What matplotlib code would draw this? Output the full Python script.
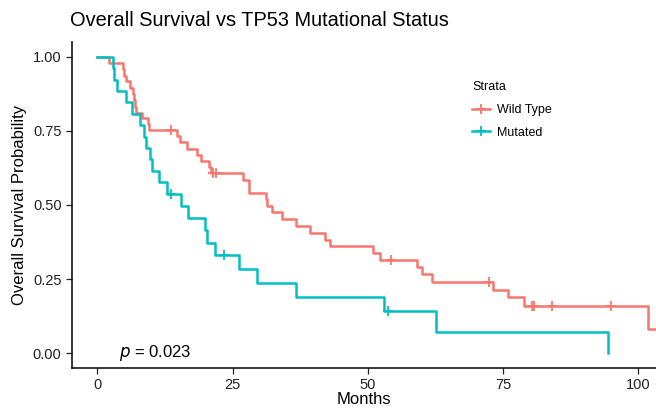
import numpy as np
import matplotlib
matplotlib.use("Agg")
import matplotlib.pyplot as plt
from matplotlib.lines import Line2D

plt.rcParams['font.family'] = ['Liberation Sans', 'DejaVu Sans']

# Kaplan-Meier steps (months, survival after the drop)
wt_time = [0, 2.2, 4.65, 5.0, 5.2, 6.0, 6.6, 6.8, 7.0, 7.2, 8.3, 9.3, 9.6,
           14.8, 15.2, 16.65, 18.4, 19.2, 20.65, 21.0, 27.0, 28.0, 31.1, 31.4,
           32.2, 34.2, 36.8, 39.3, 42.0, 43.0, 51.0, 52.35, 59.1, 60.05, 61.9,
           73.2, 75.9, 78.8, 101.9, 104.0]
wt_surv = [1.0, 0.979, 0.958, 0.936, 0.917, 0.894, 0.874, 0.853, 0.832, 0.811,
           0.793, 0.774, 0.753, 0.732, 0.711, 0.690, 0.669, 0.648, 0.627, 0.607,
           0.584, 0.541, 0.519, 0.498, 0.475, 0.452, 0.429, 0.406, 0.383, 0.360,
           0.338, 0.316, 0.290, 0.267, 0.241, 0.214, 0.188, 0.160, 0.080, 0.080]
wt_cens = [13.6, 21.3, 21.9, 54.3, 72.35, 80.4, 80.8, 84.05, 94.95]

mu_time = [0, 2.8, 3.0, 3.6, 5.2, 6.4, 7.9, 8.65, 9.0, 9.75, 10.1, 11.4, 12.8,
           15.4, 16.8, 19.85, 20.2, 21.8, 26.2, 29.45, 36.65, 53.0, 62.6, 94.5]
mu_surv = [1.0, 0.962, 0.923, 0.885, 0.846, 0.808, 0.769, 0.731, 0.692, 0.654,
           0.615, 0.577, 0.538, 0.497, 0.455, 0.414, 0.373, 0.331, 0.284, 0.237,
           0.189, 0.142, 0.071, 0.0]
mu_cens = [13.6, 23.4, 53.7]

col_wt = '#F8766D'
col_mu = '#00BFC4'


def surv_at(times, surv, t):
    idx = np.searchsorted(times, t, side='right') - 1
    return np.array(surv)[idx]


fig = plt.figure(figsize=(6.56, 4.09), dpi=100)
ax = fig.add_axes([72/656, 41/409, 1 - 72/656, 326/409])

for tm, sv, cens, col in [(wt_time, wt_surv, wt_cens, col_wt),
                          (mu_time, mu_surv, mu_cens, col_mu)]:
    ax.step(tm, sv, where='post', color=col, lw=1.8)
    ax.plot(cens, surv_at(tm, sv, cens), ls='none', marker='+', ms=7,
            mew=1.3, color=col)

ax.text(4.0, 0.0, '$p$ = 0.023', fontsize=12, va='center', ha='left')

ax.set_xlim(-4.7, 103.3)
ax.set_ylim(-0.05, 1.05)
ax.set_xticks([0, 25, 50, 75, 100])
ax.set_yticks([0, 0.25, 0.5, 0.75, 1.0])
ax.set_yticklabels(['0.00', '0.25', '0.50', '0.75', '1.00'])
ax.tick_params(labelsize=10.5, length=4, width=0.9, colors='#222222',
               labelcolor='#222222')
ax.spines['top'].set_visible(False)
ax.spines['right'].set_visible(False)
for s in ['left', 'bottom']:
    ax.spines[s].set_linewidth(1.1)
    ax.spines[s].set_color('black')
ax.set_xlabel('Months', fontsize=12, labelpad=0)
ax.set_ylabel('Overall Survival Probability', fontsize=12, labelpad=4)

fig.text(70/656, 1 - 20/409, 'Overall Survival vs TP53 Mutational Status',
         fontsize=14.4, va='center', ha='left')

handles = [Line2D([], [], color=col_wt, marker='+', ms=7, mew=1.3, lw=1.8),
           Line2D([], [], color=col_mu, marker='+', ms=7, mew=1.3, lw=1.8)]
leg = fig.legend(handles, ['Wild Type', 'Mutated'], title='Strata',
                 loc='upper left', bbox_to_anchor=(461/656, 1 - 70/409),
                 frameon=False, fontsize=9, title_fontsize=9,
                 handlelength=1.4, handletextpad=0.6, labelspacing=0.85)
leg._legend_box.align = 'left'

fig.savefig('out.png', dpi=100)
